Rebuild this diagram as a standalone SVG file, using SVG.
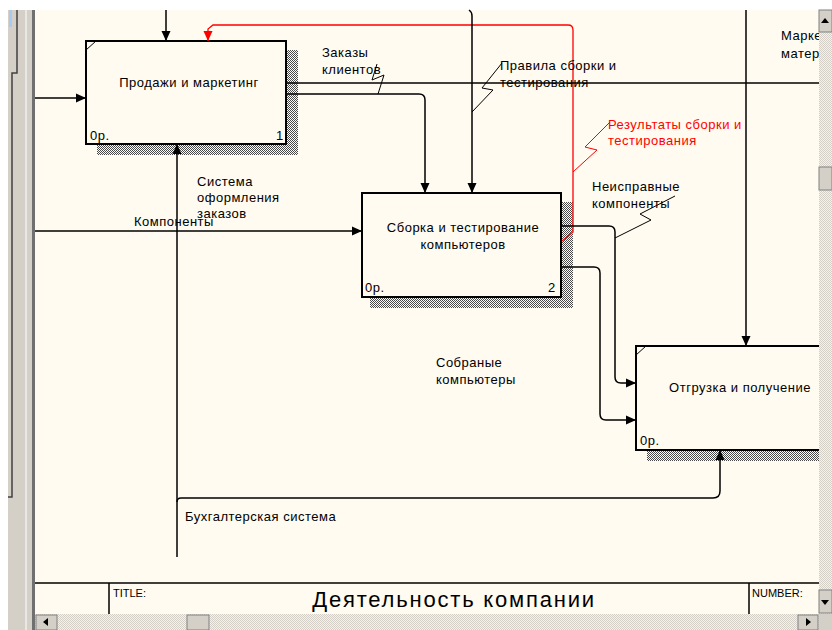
<svg xmlns="http://www.w3.org/2000/svg" width="832" height="630" viewBox="0 0 832 630">
  <defs>
    <pattern id="hatch" width="2" height="2" patternUnits="userSpaceOnUse">
      <rect width="2" height="2" fill="#FFFBF0"/>
      <rect width="1" height="1" fill="#4a4a4a"/>
      <rect x="1" y="1" width="1" height="1" fill="#4a4a4a"/>
    </pattern>
    <pattern id="dither" width="2" height="2" patternUnits="userSpaceOnUse">
      <rect width="2" height="2" fill="#F4F2EE"/>
      <rect width="1" height="1" fill="#D4D0C8"/>
      <rect x="1" y="1" width="1" height="1" fill="#D4D0C8"/>
    </pattern>
    <marker id="ah" markerWidth="10" markerHeight="10" refX="10" refY="5" orient="auto" markerUnits="userSpaceOnUse">
      <path d="M0,0.5 L10,5 L0,9.5 Z" fill="#000"/>
    </marker>
    <marker id="ahr" markerWidth="10" markerHeight="10" refX="10" refY="5" orient="auto" markerUnits="userSpaceOnUse">
      <path d="M0,0.5 L10,5 L0,9.5 Z" fill="#FF0000"/>
    </marker>
    <style>
      .box { fill: #FFFBF0; stroke: #000; stroke-width: 2; }
      .shadow { fill: url(#hatch); }
      .t { font-family: "Liberation Sans", Arial, sans-serif; font-size: 13px; letter-spacing: 0.5px; fill: #000; }
      .tc { text-anchor: middle; }
      .red { fill: #FF0000; }
      .c { fill: none; stroke: #000; stroke-width: 1.5; }
      .cr { fill: none; stroke: #FF0000; stroke-width: 1.3; }
      .sq { fill: none; stroke: #000; stroke-width: 1; }
      .sqr { fill: none; stroke: #FF0000; stroke-width: 1; }
      .btn { fill: #D4D0C8; stroke: #808080; stroke-width: 1; }
    </style>
  </defs>

  <!-- window chrome -->
  <rect x="0" y="0" width="832" height="630" fill="#FFFFFF"/>
  <rect x="35" y="10" width="784" height="604" fill="#FFFBF0"/>
  <rect x="8" y="10" width="27" height="620" fill="#D4D0C8"/>
  <rect x="9" y="10" width="3" height="17" fill="#A6CAF0"/>
  <path d="M17,10 V73 H12 V497 H8" fill="none" stroke="#404040" stroke-width="1.5"/>
  <line x1="26" y1="10" x2="26" y2="630" stroke="#FFFFFF" stroke-width="1"/>
  <rect x="32" y="10" width="3" height="620" fill="#707070"/>

  <!-- title block -->
  <g id="title-block">
    <line x1="35" y1="583" x2="819" y2="583" stroke="#000" stroke-width="1.5"/>
    <line x1="109" y1="583" x2="109" y2="614" stroke="#000" stroke-width="1.5"/>
    <line x1="749" y1="583" x2="749" y2="614" stroke="#000" stroke-width="1.5"/>
    <text class="t" x="113" y="597" style="font-size:11px;letter-spacing:0">TITLE:</text>
    <text class="t" x="454" y="607" text-anchor="middle" style="font-size:22px;letter-spacing:1.8px">Деятельность компании</text>
    <text class="t" x="752" y="597" style="font-size:11px;letter-spacing:0">NUMBER:</text>
  </g>

  <!-- nodes -->
  <g id="node-1">
    <rect class="shadow" x="287" y="50" width="11" height="105"/>
    <rect class="shadow" x="97" y="145" width="201" height="10"/>
    <rect class="box" x="86" y="41" width="200" height="103"/>
    <line x1="86" y1="50" x2="96" y2="41" stroke="#000" stroke-width="1"/>
    <text class="t tc" x="189" y="87">Продажи и маркетинг</text>
    <text class="t" x="90" y="140">0р.</text>
    <text class="t" x="276" y="140">1</text>
  </g>

  <g id="node-2">
    <rect class="shadow" x="562" y="202" width="11" height="106"/>
    <rect class="shadow" x="370" y="298" width="203" height="10"/>
    <rect class="box" x="362" y="193" width="199" height="104"/>
    <text class="t tc" x="463" y="232">Сборка и тестирование</text>
    <text class="t tc" x="463" y="249">компьютеров</text>
    <text class="t" x="365" y="292">0р.</text>
    <text class="t" x="548" y="292">2</text>
  </g>

  <g id="node-3">
    <rect class="shadow" x="647" y="451" width="172" height="10"/>
    <rect class="box" x="636" y="346" width="200" height="104"/>
    <line x1="636" y1="355" x2="646" y2="346" stroke="#000" stroke-width="1"/>
    <text class="t tc" x="740" y="392">Отгрузка и получение</text>
    <text class="t" x="640" y="445">0р.</text>
  </g>

  <!-- connectors -->
  <g id="connectors">
    <!-- control into node 1 -->
    <path class="c" d="M166,10 V41" marker-end="url(#ah)"/>
    <!-- feedback: results of assembly and testing -->
    <path class="cr" d="M562,241 L573,232 V30 Q573,25 568,25 H213 L208,29 V41" marker-end="url(#ahr)"/>
    <!-- input into node 1 -->
    <path class="c" d="M35,98 H86" marker-end="url(#ah)"/>
    <!-- customer orders, outgoing to the right -->
    <path class="c" d="M286,83 H819"/>
    <!-- customer orders into node 2 -->
    <path class="c" d="M286,94 H419 Q425,94 425,100 V193" marker-end="url(#ah)"/>
    <!-- assembly rules -->
    <path class="c" d="M469,10 Q472,12 472,16 V193" marker-end="url(#ah)"/>
    <!-- marketing materials into node 3 -->
    <path class="c" d="M746,10 V346" marker-end="url(#ah)"/>
    <!-- components into node 2 -->
    <path class="c" d="M35,231 H362" marker-end="url(#ah)"/>
    <!-- order system / accounting system mechanisms -->
    <path class="c" d="M177,557 V144" marker-end="url(#ah)"/>
    <path class="c" d="M177,502 Q177,498 181,498 H713 Q720,498 720,491 V450" marker-end="url(#ah)"/>
    <!-- outputs of node 2 into node 3 -->
    <path class="c" d="M561,226 H609 Q615,226 615,232 V377 Q615,383 621,383 H636" marker-end="url(#ah)"/>
    <path class="c" d="M561,267 H594 Q600,267 600,273 V414 Q600,420 606,420 H636" marker-end="url(#ah)"/>

    <!-- label squiggles -->
    <path class="sq" d="M377,64 L372,80 L384,75 L378,94"/>
    <path class="sq" d="M472,112 L493,90 L482,88 L502,63"/>
    <path class="sqr" d="M573,172 L597,150 L585,147 L610,122"/>
    <path class="sq" d="M615,238 L651,220 L640,214 L675,196"/>
  </g>

  <!-- connector labels -->
  <g id="labels">
    <text class="t" x="322" y="57">Заказы</text>
    <text class="t" x="322" y="74">клиентов</text>
    <text class="t" x="500" y="70">Правила сборки и</text>
    <text class="t" x="500" y="87">тестирования</text>
    <text class="t red" x="608" y="129">Результаты сборки и</text>
    <text class="t red" x="608" y="145">тестирования</text>
    <text class="t" x="592" y="191">Неисправные</text>
    <text class="t" x="592" y="208">компоненты</text>
    <text class="t" x="781" y="40">Марке</text>
    <text class="t" x="781" y="58">матер</text>
    <text class="t" x="197" y="186">Система</text>
    <text class="t" x="197" y="202">оформления</text>
    <text class="t" x="197" y="218">заказов</text>
    <text class="t" x="134" y="226">Компоненты</text>
    <text class="t" x="436" y="367">Собраные</text>
    <text class="t" x="436" y="384">компьютеры</text>
    <text class="t" x="185" y="521">Бухгалтерская система</text>
  </g>

  <!-- scrollbars drawn last so they sit above the drawing -->
  <rect x="35" y="614" width="784" height="16" fill="url(#dither)"/>
  <rect x="36" y="615" width="21" height="15" class="btn"/>
  <path d="M43,622 L48,618 L48,626 Z" fill="#000"/>
  <rect x="187" y="615" width="22" height="15" class="btn"/>
  <rect x="798" y="615" width="20" height="15" class="btn"/>
  <path d="M811,622 L806,618 L806,626 Z" fill="#000"/>
  <rect x="819" y="10" width="13" height="604" fill="url(#dither)"/>
  <rect x="819" y="10" width="13" height="22" class="btn"/>
  <path d="M825,18 L829,23 L821,23 Z" fill="#000"/>
  <rect x="819" y="167" width="13" height="23" class="btn"/>
  <rect x="819" y="590" width="13" height="23" class="btn"/>
  <path d="M825,605 L829,600 L821,600 Z" fill="#000"/>
  <rect x="819" y="614" width="13" height="16" fill="#D4D0C8"/>
</svg>
